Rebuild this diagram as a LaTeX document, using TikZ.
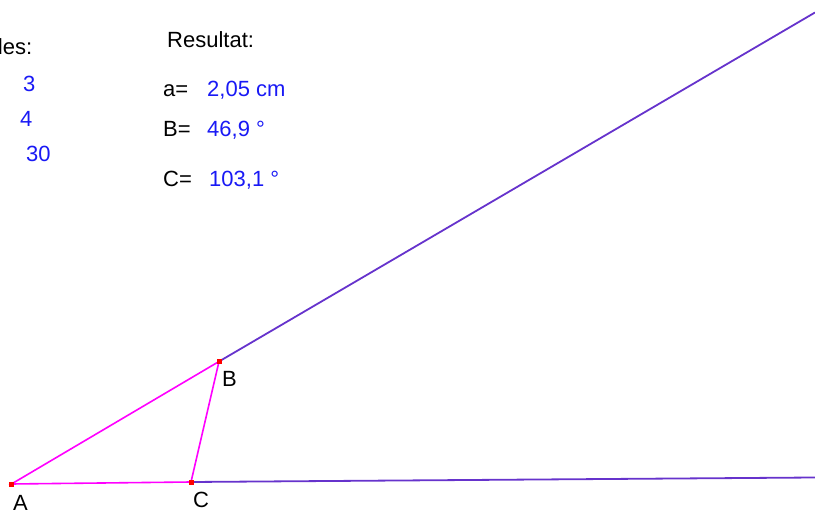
\documentclass[tikz,border=0pt]{standalone}
\usepackage{fontspec}
\setmainfont{Liberation Sans}
\definecolor{sidemagenta}{RGB}{255,0,255}
\definecolor{raypurple}{RGB}{102,51,204}
\definecolor{valueblue}{RGB}{25,25,245}
\begin{document}
\begin{tikzpicture}[x=1pt, y=-1pt, every node/.style={font=\fontsize{22}{25}\selectfont, inner sep=0pt, anchor=base west},
    side/.style={sidemagenta, line width=1.6pt},
    ray/.style={raypurple, line width=1.8pt},
    vertex/.style={fill=red, minimum size=5pt, anchor=center},
    value/.style={text=valueblue}]
    \clip (0,0) rectangle (815,513);
    % given values
    \node (given) at (-9.5,55) {des:};
    \node[value] (side1) at (23,92) {3};
    \node[value] (side2) at (20,127) {4};
    \node[value] (angle) at (26,162) {30};
    % results
    \node (result) at (167,48) {Resultat:};
    \node (alabel) at (163,97) {a=};
    \node[value] (aval) at (207,97) {2,05 cm};
    \node (Blabel) at (163,137) {B=};
    \node[value] (Bval) at (207,137) {46,9 °};
    \node (Clabel) at (163,187) {C=};
    \node[value] (Cval) at (209,187) {103,1 °};
    % triangle
    \coordinate (Bend) at (815,12.5);
    \coordinate (Cend) at (815,477.5);
    \node[vertex] (A) at (11.5,484) {};
    \node[vertex] (B) at (219,361.5) {};
    \node[vertex] (C) at (191,482) {};
    \draw[ray] (B.center) -- (Bend);
    \draw[ray] (C.center) -- (Cend);
    \draw[side] (A.center) -- (B.center) -- (C.center) -- cycle;
    \node[vertex] at (A) {};
    \node[vertex] at (B) {};
    \node[vertex] at (C) {};
    \node (Aname) at (13,510) {A};
    \node (Bname) at (222,387) {B};
    \node (Cname) at (193,507) {C};
\end{tikzpicture}
\end{document}
